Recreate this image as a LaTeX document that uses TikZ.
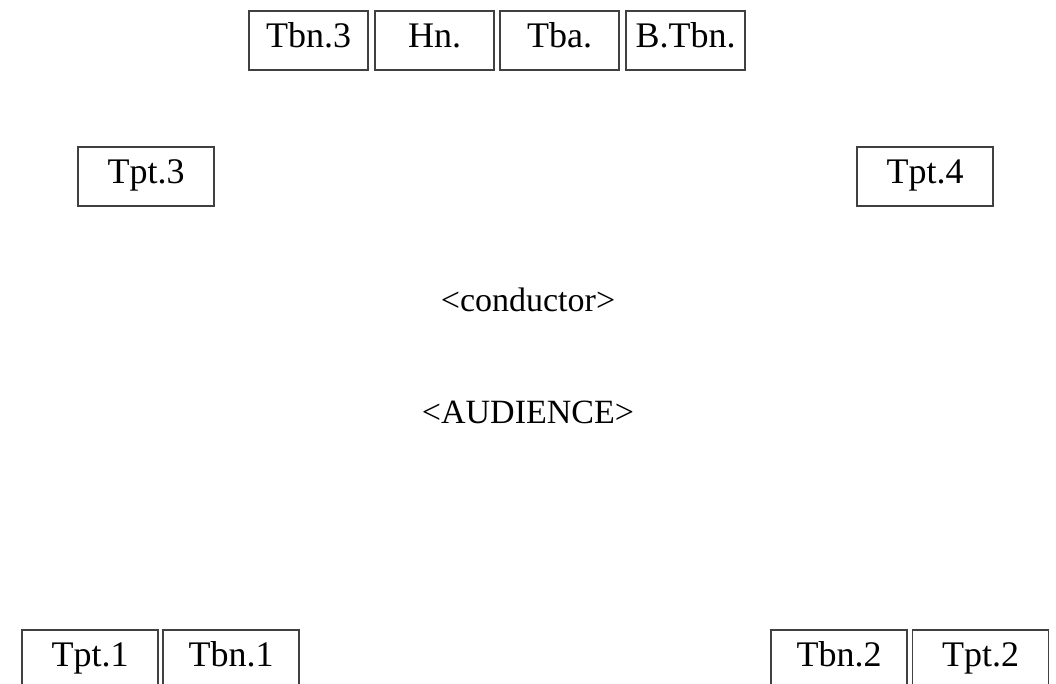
\documentclass[tikz,border=0pt]{standalone}
\usepackage{fontspec}
\setmainfont{Liberation Serif}
\begin{document}
\begin{tikzpicture}[x=1pt,y=-1pt,
  seat/.style={draw=black!75,line width=1.1pt,inner sep=0pt,minimum height=59pt,
    text height=26pt,text depth=13pt,font=\fontsize{36}{40}\selectfont},
  narrow/.style={seat,minimum width=119pt},
  wide/.style={seat,minimum width=136pt},
  label/.style={font=\fontsize{34}{40}\selectfont,inner sep=0pt}]
\useasboundingbox (0,0) rectangle (1056,683);
\clip (0,0) rectangle (1056,683);
\node[narrow] (tbn3) at (308.5,40.5) {Tbn.3};
\node[narrow] (hn) at (434.5,40.5) {Hn.};
\node[narrow] (tba) at (559.5,40.5) {Tba.};
\node[narrow] (btbn) at (685.5,40.5) {B.Tbn.};
\node[wide] (tpt3) at (146,176.5) {Tpt.3};
\node[wide] (tpt4) at (925,176.5) {Tpt.4};
\node[label] (cond) at (528,300) {<conductor>};
\node[label] (aud) at (528,412) {<AUDIENCE>};
\node[wide] (tpt1) at (90,659.5) {Tpt.1};
\node[wide] (tbn1) at (231,659.5) {Tbn.1};
\node[wide] (tbn2) at (839,659.5) {Tbn.2};
\node[wide] (tpt2) at (980.5,659.5) {Tpt.2};
\end{tikzpicture}
\end{document}
